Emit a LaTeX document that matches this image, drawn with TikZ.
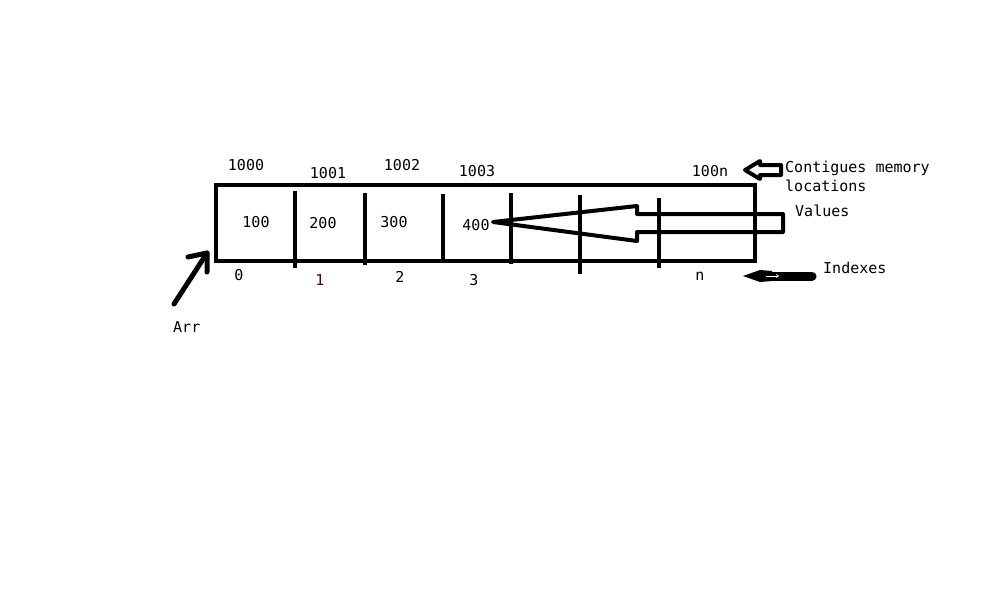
\documentclass[tikz,border=0pt]{standalone}
\usepackage{fontspec}
\setmonofont{DejaVu Sans Mono}
\definecolor{idxred}{RGB}{90, 0, 0}
\usepackage{tikz}
\usetikzlibrary{arrows.meta, positioning, calc}

\begin{document}
\begin{tikzpicture}[x=1pt, y=-1pt,
    cell/.style={line width=4pt},
    lbl/.style={font=\ttfamily\fontsize{15}{19}\selectfont, inner sep=0pt, anchor=base},
    side/.style={lbl, anchor=base west, align=left},
    hollow/.style={line width=4pt, line join=round}]
  \useasboundingbox (0,0) rectangle (1000,600);

  % Array box
  \draw[cell] (216,185) rectangle (755,261);
  \foreach \x/\a/\b in {295/191/268, 365/193/265, 443/194/263, 511/193/264, 580/195/274, 659/198/268}
    \draw[cell] (\x,\a) -- (\x,\b);

  % Addresses
  \node[lbl] (ad0) at (246,170) {1000};
  \node[lbl] (ad1) at (328,178) {1001};
  \node[lbl] (ad2) at (402,170) {1002};
  \node[lbl] (ad3) at (477,176) {1003};
  \node[lbl] (adn) at (710,176) {100n};

  % Values
  \node[lbl] (v0) at (256,227) {100};
  \node[lbl] (v1) at (323,228) {200};
  \node[lbl] (v2) at (394,227) {300};
  \node[lbl] (v3) at (476,230) {400};

  % Indexes
  \node[lbl] (i0) at (239,280) {0};
  \node[lbl, text=idxred] (i1) at (320,285) {1};
  \node[lbl] (i2) at (400,282) {2};
  \node[lbl] (i3) at (474,285) {3};
  \node[lbl] (in) at (700,280) {n};

  % Side labels
  \node[side] (mem) at (785,191) {Contigues memory\\locations};
  \node[side] (vals) at (795,216) {Values};
  \node[side] (idx) at (823,273) {Indexes};
  \node[side] (arr) at (173,332) {Arr};

  % Arrow to the addresses
  \coordinate (memtip) at (745,170);
  \draw[hollow] (memtip) -- ++(15,-9) -- ++(0,4) -- ++(21,0) -- ++(0,10) -- ++(-21,0) -- ++(0,4) -- cycle;

  % Arrow to the values
  \coordinate (valtip) at (493,222);
  \draw[hollow] (valtip) -- (637,206) -- (637,214) -- (783,214) -- (783,232) -- (637,232) -- (637,241) -- cycle;

  % Arrow to the indexes
  \coordinate (idxtip) at (743,276);
  \coordinate (idxtail) at (812,276);
  \draw[line width=9pt, line cap=round] (idxtail) -- (760,276);
  \fill[line join=round] (idxtip) -- (760,270) -- (772,271) -- (772,281) -- (760,282) -- cycle;
  \draw[white, line width=0.8pt, -{Straight Barb[length=2pt, width=3pt]}] (766,276) -- (779,276);

  % Arrow from Arr
  \coordinate (arrtail) at (174,304);
  \coordinate (arrtip) at (207,253);
  \draw[line width=5pt, line cap=round, line join=round] (arrtail) -- (arrtip);
  \draw[line width=5pt, line cap=round, line join=round] (188,257) -- (arrtip) -- (207,272);
\end{tikzpicture}
\end{document}
